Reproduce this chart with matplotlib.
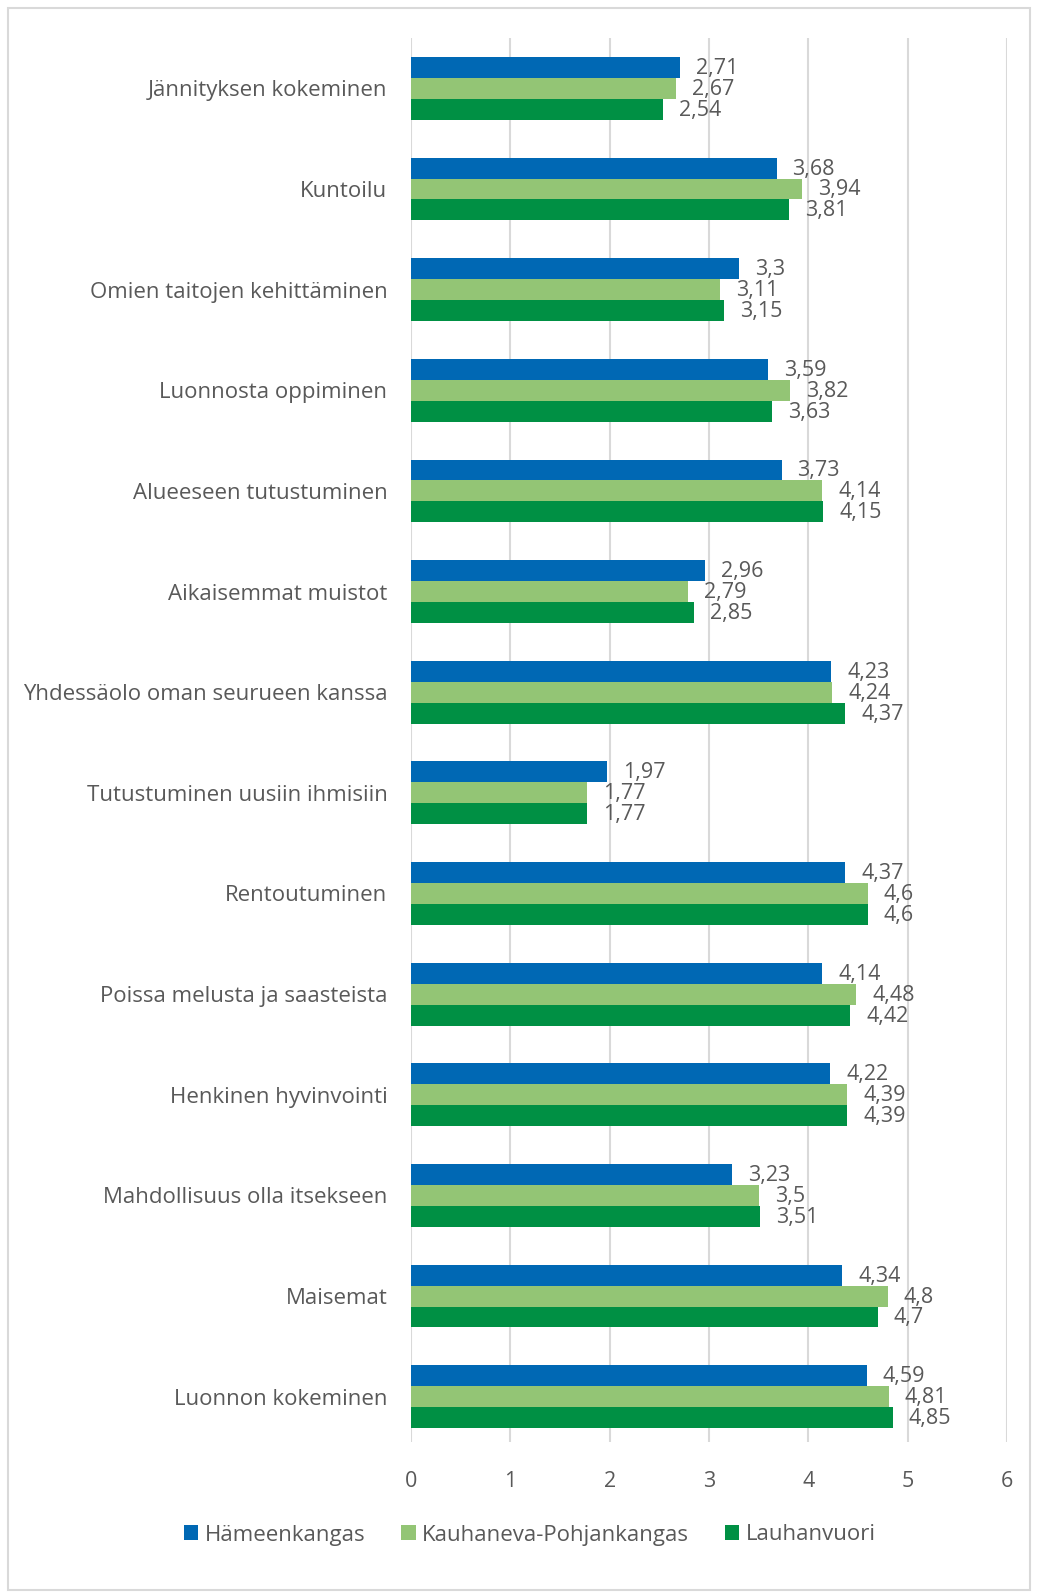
import matplotlib
matplotlib.use("Agg")
import matplotlib.pyplot as plt
from matplotlib.patches import Rectangle
import numpy as np

categories = [
    "Jännityksen kokeminen", "Kuntoilu", "Omien taitojen kehittäminen",
    "Luonnosta oppiminen", "Alueeseen tutustuminen", "Aikaisemmat muistot",
    "Yhdessäolo oman seurueen kanssa", "Tutustuminen uusiin ihmisiin",
    "Rentoutuminen", "Poissa melusta ja saasteista", "Henkinen hyvinvointi",
    "Mahdollisuus olla itsekseen", "Maisemat", "Luonnon kokeminen",
]
series_names = ["Hämeenkangas", "Kauhaneva-Pohjankangas", "Lauhanvuori"]
hameenkangas = [2.71, 3.68, 3.3, 3.59, 3.73, 2.96, 4.23, 1.97, 4.37, 4.14, 4.22, 3.23, 4.34, 4.59]
kauhaneva = [2.67, 3.94, 3.11, 3.82, 4.14, 2.79, 4.24, 1.77, 4.6, 4.48, 4.39, 3.5, 4.8, 4.81]
lauhanvuori = [2.54, 3.81, 3.15, 3.63, 4.15, 2.85, 4.37, 1.77, 4.6, 4.42, 4.39, 3.51, 4.7, 4.85]
xticks = [0, 1, 2, 3, 4, 5, 6]

colors = ["#0068B4", "#93C575", "#009044"]
txt = "#595959"
plt.rcParams['font.family'] = ['Open Sans', 'DejaVu Sans']

fig = plt.figure(figsize=(10.47, 15.95), dpi=100)
ax = fig.add_axes([411/1047, 1 - 1442/1595, (1007-411)/1047, (1442-38)/1595])

y = np.arange(len(categories))
h = 0.208
all_series = [hameenkangas, kauhaneva, lauhanvuori]
for i, (vals, c, name) in enumerate(zip(all_series, colors, series_names)):
    pos = y + (i - 1) * h
    ax.barh(pos, vals, height=h, color=c, label=name, zorder=3)
    for p, v in zip(pos, vals):
        lab = ("%g" % v).replace(".", ",")
        ax.annotate(lab, (v, p), xytext=(16, -1), textcoords="offset pixels",
                    ha="left", va="center", fontsize=15.5, color=txt, zorder=4)

ax.set_ylim(13.45, -0.5)
ax.set_xlim(0, 6)
ax.set_xticks(xticks)
ax.set_xticklabels([str(t) for t in xticks])
ax.set_yticks(y)
ax.set_yticklabels(categories)
ax.tick_params(axis='both', length=0, labelsize=15.5, colors=txt)
ax.tick_params(axis='y', labelsize=16, pad=17)
ax.tick_params(axis='x', pad=21)
ax.grid(axis='x', color="#D9D9D9", linewidth=1.5, zorder=0)
for s in ax.spines.values():
    s.set_visible(False)

handles, labels = ax.get_legend_handles_labels()
fig.legend(handles, labels, loc='center', bbox_to_anchor=(530/1047, 1 - 1535/1595),
           ncol=3, frameon=False, fontsize=16, labelcolor=txt,
           handlelength=0.65, handleheight=0.65, handletextpad=0.3, columnspacing=1.6)

fig.patches.append(Rectangle((8/1047, 1 - 1590/1595), (1030-8)/1047, (1590-8)/1595,
                             transform=fig.transFigure, fill=False, edgecolor="#D9D9D9", linewidth=1.5))

fig.savefig("out.png", dpi=100)
